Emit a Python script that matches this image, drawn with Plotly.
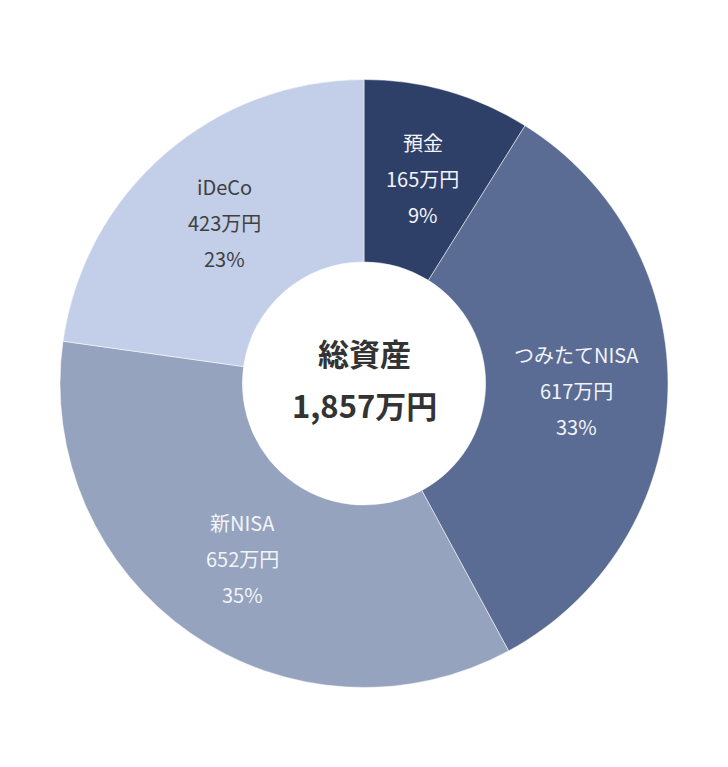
import math
import plotly.graph_objects as go

labels = ["預金", "つみたてNISA", "新NISA", "iDeCo"]
values = [165, 617, 652, 423]
colors = ["#2f4068", "#5a6b94", "#95a3be", "#c3cfe8"]
text_colors = ["#f2f4f8", "#f2f4f8", "#f2f4f8", "#404040"]
center_title = "総資産"
center_total = "1,857万円"

W, H = 728, 767
# page body adds an 8px offset, so margins are shifted to keep the pie centred
ml, mr, mt, mb = 52, 68, 71, 87
hole = 0.4

fig = go.Figure(go.Pie(
    labels=labels,
    values=values,
    sort=False,
    direction="clockwise",
    rotation=0,
    hole=hole,
    textinfo="none",
    hoverinfo="skip",
    marker=dict(colors=colors, line=dict(color="rgba(255,255,255,0.5)", width=1)),
))

# slice labels at the middle of the ring
pw, ph = W - ml - mr, H - mt - mb
radius = min(pw, ph) / 2
r_mid = radius * (1 + hole) / 2
total = sum(values)
annotations = []
cum = 0
for lab, val, tc in zip(labels, values, text_colors):
    mid = (cum + val / 2) / total * 2 * math.pi
    cum += val
    x = 0.5 + r_mid * math.sin(mid) / pw
    y = 0.5 + r_mid * math.cos(mid) / ph
    lines = [lab, f"{val}万円", f"{round(val / total * 100)}%"]
    for line, shift in zip(lines, [36, 0, -36]):
        annotations.append(dict(
            x=x, y=y, xref="paper", yref="paper", text=line, showarrow=False,
            xanchor="center", yanchor="middle", yshift=shift,
            font=dict(size=20, color=tc, family="Noto Sans CJK JP"),
        ))

# center text
annotations.append(dict(x=0.5, y=0.5, xref="paper", yref="paper", text=f"<b>{center_title}</b>",
                        showarrow=False, xanchor="center", yanchor="middle", yshift=31,
                        font=dict(size=31, color="#333333", family="Noto Sans CJK JP")))
annotations.append(dict(x=0.5, y=0.5, xref="paper", yref="paper", text=f"<b>{center_total}</b>",
                        showarrow=False, xanchor="center", yanchor="middle", yshift=-21,
                        font=dict(size=31, color="#333333", family="Noto Sans CJK JP")))

fig.update_layout(
    width=W,
    height=H,
    margin=dict(l=ml, r=mr, t=mt, b=mb),
    showlegend=False,
    paper_bgcolor="white",
    plot_bgcolor="white",
    annotations=annotations,
)

fig.write_html("out.html")
